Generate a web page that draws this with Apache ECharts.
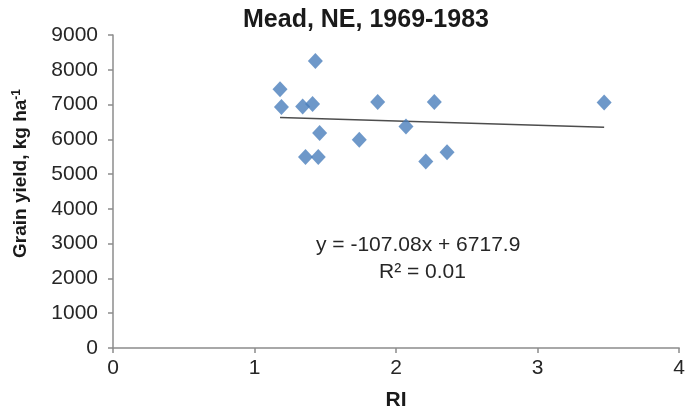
<!DOCTYPE html>
<html>
<head>
<meta charset="utf-8">
<script src="https://cdn.jsdelivr.net/npm/echarts@6/dist/echarts.min.js"></script>
<style>
html,body{margin:0;padding:0;background:#fff;}
#chart{width:688px;height:416px;}
</style>
</head>
<body>
<div id="chart"></div>
<script>
// Data
const riValues    = [1.18, 1.19, 1.34, 1.41, 1.43, 1.87, 2.27, 1.46, 1.74, 2.07, 1.36, 1.45, 2.21, 2.36, 3.47];
const yieldValues = [7443, 6927, 6945, 7013, 8255, 7071, 7071, 6182, 5990, 6371, 5494, 5494, 5360, 5626, 7059];
// Trendline endpoints (as drawn)
const trendRI    = [1.18, 3.47];
const trendYield = [6630, 6345];
const titleText = 'Mead, NE, 1969-1983';
const xName = 'RI';
const eqLine1 = 'y = -107.08x + 6717.9';
const eqLine2 = 'R² = 0.01';
const xTicks = [0, 1, 2, 3, 4];
const yTicks = [0, 1000, 2000, 3000, 4000, 5000, 6000, 7000, 8000, 9000];

const pts = riValues.map((x, i) => [x, yieldValues[i]]);
const trend = trendRI.map((x, i) => [x, trendYield[i]]);

const font = 'Liberation Sans, Arial, sans-serif';
const chart = echarts.init(document.getElementById('chart'), null, {renderer: 'canvas'});
chart.setOption({
  animation: false,
  backgroundColor: '#ffffff',
  title: {
    text: titleText,
    left: 361, top: 3, textAlign: 'center',
    textStyle: {fontFamily: font, fontWeight: 'bold', fontSize: 25, color: '#1a1a1a'}
  },
  grid: {left: 113, right: 4, top: 35, bottom: 65, containLabel: false},
  xAxis: {
    type: 'value', min: xTicks[0], max: xTicks[xTicks.length - 1], interval: 1,
    name: xName, nameLocation: 'middle', nameGap: 42,
    nameTextStyle: {fontFamily: font, fontWeight: 'bold', fontSize: 21, color: '#1a1a1a'},
    axisLine: {show: true, lineStyle: {color: '#8c8c8c', width: 1.5}},
    axisTick: {show: true, length: 5, inside: false, lineStyle: {color: '#8c8c8c', width: 1.5}},
    axisLabel: {fontFamily: font, fontSize: 21, color: '#262626', margin: 10, formatter: v => String(v)},
    splitLine: {show: false}
  },
  yAxis: {
    type: 'value', min: yTicks[0], max: yTicks[yTicks.length - 1], interval: 1000,
    name: 'Grain yield, kg ha{sup|-1}', nameLocation: 'middle', nameGap: 82,
    nameTextStyle: {
      fontFamily: font, fontWeight: 'bold', fontSize: 19, color: '#1a1a1a',
      padding: [0, 0, 0, 36],
      rich: {sup: {fontFamily: font, fontWeight: 'bold', fontSize: 12, color: '#1a1a1a', verticalAlign: 'top', padding: [0, 0, 8, 0]}}
    },
    axisLine: {show: true, lineStyle: {color: '#8c8c8c', width: 1.5}},
    axisTick: {show: true, length: 5, inside: false, lineStyle: {color: '#8c8c8c', width: 1.5}},
    axisLabel: {fontFamily: font, fontSize: 21, color: '#262626', margin: 15, formatter: v => String(v)},
    splitLine: {show: false}
  },
  graphic: [
    {type: 'text', left: 316, top: 235, style: {text: eqLine1, font: '21px ' + font, fill: '#262626'}},
    {type: 'text', left: 379, top: 262, style: {text: eqLine2, font: '21px ' + font, fill: '#262626'}}
  ],
  series: [
    {
      type: 'line', data: trend, symbol: 'none', silent: true,
      lineStyle: {color: '#4d4d4d', width: 1.5}, z: 1
    },
    {
      type: 'scatter', data: pts, symbol: 'diamond', symbolSize: [15, 16],
      itemStyle: {color: '#4a7ebb'}, z: 2
    }
  ]
});
</script>
</body>
</html>
